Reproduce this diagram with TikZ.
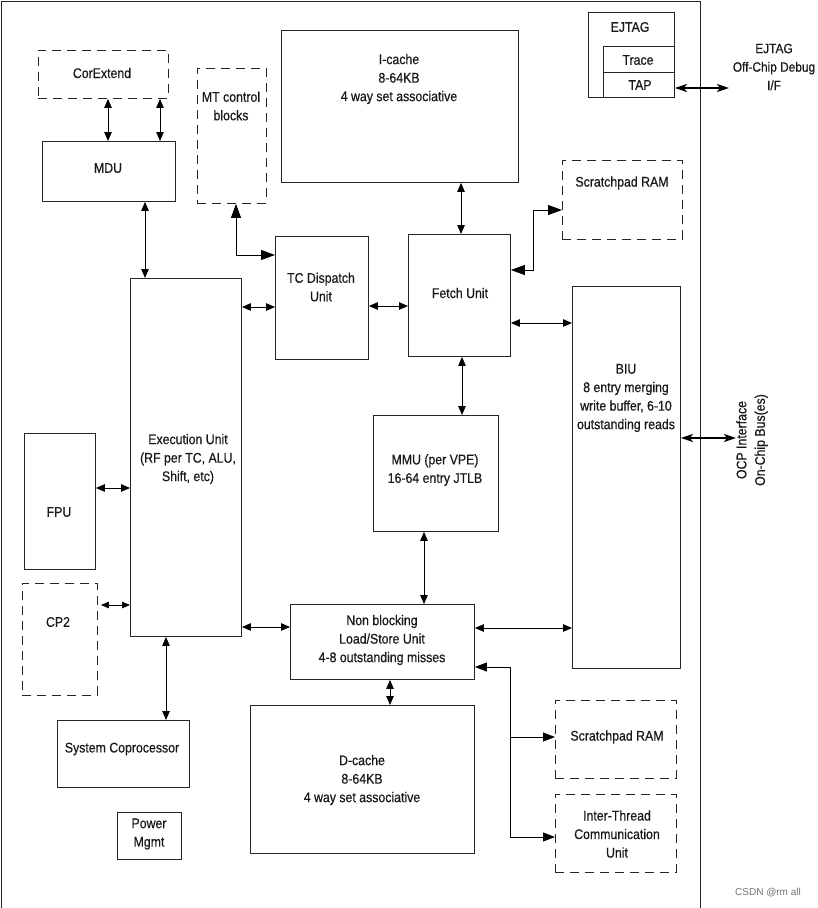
\documentclass[tikz,border=0pt]{standalone}
\usepackage{fontspec}
\setmainfont{Liberation Sans}[FakeStretch=0.88,FakeBold=0.5]
\newfontfamily\wmfont{Liberation Sans}
\usetikzlibrary{arrows.meta}
\begin{document}
\begin{tikzpicture}[x=1pt,y=-1pt,
  box/.style={draw=black!85, line width=0.9pt, inner sep=0pt, anchor=north west},
  dbox/.style={box, dash pattern=on 9pt off 6pt},
  txt/.style={align=center, inner sep=0pt, font=\fontsize{14}{18.5}\selectfont, text=black!90},
  dar/.style={{Triangle[length=9pt,width=7.5pt]}-{Triangle[length=9pt,width=7.5pt]}, line width=0.9pt},
  bar/.style={{Triangle[length=14pt,width=10pt]}-{Triangle[length=14pt,width=10pt]}, line width=0.9pt},
  tar/.style={{Stealth[length=12pt,width=8pt,inset=3pt]}-{Stealth[length=12pt,width=8pt,inset=3pt]}, line width=2pt},
  sar/.style={-{Triangle[length=12pt,width=9pt]}, line width=0.9pt}]
\useasboundingbox (0,0) rectangle (817,908);
\fill[white] (0,0) rectangle (817,908);
% chip frame
\node[box, minimum width=699pt, minimum height=907pt] (chip) at (0.5,0.5) {};
% EJTAG
\node[box, minimum width=86pt, minimum height=85pt] (ejtag) at (588,12) {};
\node[box, minimum width=71pt, minimum height=26pt] (trace) at (603,46) {};
\node[box, minimum width=71pt, minimum height=25pt] (tap) at (603,72) {};
\node[txt] (tejtag) at (630,27) {EJTAG};
\node[txt] (ttrace) at (638,60) {Trace};
\node[txt] (ttap) at (640,85) {TAP};
\coordinate (ejout) at (729,88);
\draw[tar] (tap.east |- ejout) -- (ejout);
\node[txt, font=\fontsize{13.5}{18.5}\selectfont] (tdebug) at (774,67) {EJTAG\\Off-Chip Debug\\I/F};
% CorExtend, MDU
\node[dbox, minimum width=130pt, minimum height=48pt] (corext) at (38,50) {};
\node[txt] (tcorext) at (102,73) {CorExtend};
\node[box, minimum width=133pt, minimum height=60pt] (mdu) at (42,141) {};
\node[txt] (tmdu) at (108,168) {MDU};
\draw[dar] (corext.south -| 108,0) -- (mdu.north -| 108,0);
\draw[dar] (corext.south -| 160,0) -- (mdu.north -| 160,0);
% MT control
\node[dbox, minimum width=69pt, minimum height=135pt] (mt) at (197,68) {};
\node[txt] (tmt) at (231,106) {MT control\\blocks};
% I-cache
\node[box, minimum width=237pt, minimum height=152pt] (icache) at (281,30) {};
\node[txt] (ticache) at (399,79) {I-cache\\8-64KB\\4 way set associative};
% TC dispatch
\node[box, minimum width=93pt, minimum height=123pt] (tcd) at (275,236) {};
\node[txt] (ttcd) at (321,287) {TC Dispatch\\Unit};
% Fetch
\node[box, minimum width=102pt, minimum height=122pt] (fetch) at (408,234) {};
\node[txt] (tfetch) at (460,293) {Fetch Unit};
% Scratchpad top
\node[dbox, minimum width=120pt, minimum height=79pt] (spram1) at (562,160) {};
\node[txt] (tspram1) at (622,183) {Scratchpad RAM};
% Execution
\node[box, minimum width=111pt, minimum height=358pt] (exec) at (130,278) {};
\node[txt] (texec) at (188,459) {Execution Unit\\(RF per TC, ALU,\\Shift, etc)};
% BIU
\node[box, minimum width=108pt, minimum height=382pt] (biu) at (572,286) {};
\node[txt] (tbiu) at (626,398) {BIU\\8 entry merging\\write buffer, 6-10\\outstanding reads};
% MMU
\node[box, minimum width=125pt, minimum height=116pt] (mmu) at (373,415) {};
\node[txt] (tmmu) at (435,470) {MMU (per VPE)\\16-64 entry JTLB};
% FPU, CP2
\node[box, minimum width=71pt, minimum height=136pt] (fpu) at (24,433) {};
\node[txt] (tfpu) at (59,512) {FPU};
\node[dbox, minimum width=75pt, minimum height=112pt] (cp2) at (22,583) {};
\node[txt] (tcp2) at (58,622) {CP2};
% LSU
\node[box, minimum width=184pt, minimum height=75pt] (lsu) at (290,604) {};
\node[txt] (tlsu) at (382,640) {Non blocking\\Load/Store Unit\\4-8 outstanding misses};
% D-cache
\node[box, minimum width=224pt, minimum height=148pt] (dcache) at (250,705) {};
\node[txt] (tdcache) at (362,780) {D-cache\\8-64KB\\4 way set associative};
% System coprocessor, power
\node[box, minimum width=132pt, minimum height=67pt] (scp) at (57,720) {};
\node[txt] (tscp) at (122,749) {System Coprocessor};
\node[box, minimum width=64pt, minimum height=47pt] (pwr) at (117,812) {};
\node[txt] (tpwr) at (149,834) {Power\\Mgmt};
% Scratchpad bottom, ITC
\node[dbox, minimum width=121pt, minimum height=78pt] (spram2) at (555,700) {};
\node[txt] (tspram2) at (617,737) {Scratchpad RAM};
\node[dbox, minimum width=121pt, minimum height=78pt] (itc) at (555,794) {};
\node[txt] (titc) at (617,834) {Inter-Thread\\Communication\\Unit};
% OCP
\coordinate (ocpout) at (736,438);
\draw[tar] (biu.east |- ocpout) -- (ocpout);
\node[txt, rotate=90] (tocp) at (752,440) {OCP Interface\\On-Chip Bus(es)};
% connectors
\draw[dar] (mdu.south -| 145,0) -- (exec.north -| 145,0);
\draw[bar] (tcd.west |- 0,255) -| (mt.south -| 236,0);
\draw[dar] (icache.south -| 461,0) -- (fetch.north -| 461,0);
\draw[bar] (fetch.east |- 0,270) -| (533,210) -- (spram1.west |- 0,210);
\draw[dar] (exec.east |- 0,307) -- (tcd.west |- 0,307);
\draw[dar] (tcd.east |- 0,306) -- (fetch.west |- 0,306);
\draw[dar] (fetch.east |- 0,323) -- (biu.west |- 0,323);
\draw[dar] (fetch.south -| 462,0) -- (mmu.north -| 462,0);
\draw[dar] (fpu.east |- 0,488) -- (exec.west |- 0,488);
\draw[{Triangle[length=8pt,width=6.5pt]}-{Triangle[length=8pt,width=6.5pt]}, line width=0.9pt] (cp2.east |- 0,605) ++(3,0) -- (exec.west |- 0,605);
\draw[dar] (mmu.south -| 424,0) -- (lsu.north -| 424,0);
\draw[dar] (exec.east |- 0,627) -- (lsu.west |- 0,627);
\draw[dar] (lsu.east |- 0,628) -- (biu.west |- 0,628);
\draw[dar] (lsu.south -| 390,0) -- (dcache.north -| 390,0);
\draw[dar] (exec.south -| 166,0) -- (scp.north -| 166,0);
\coordinate (brtop) at (510,667);
\coordinate (brmid) at (510,737);
\draw[sar] (brtop) -- (lsu.east |- brtop);
\draw[line width=0.9pt] (brtop) -- (510,837);
\draw[sar] (brmid) -- (spram2.west |- brmid);
\draw[sar] (510,837) -- (itc.west |- 0,837);
% watermark
\node[inner sep=0pt, font=\wmfont\fontsize{10}{12}\selectfont, text=black!55] (wm) at (768,893) {CSDN @rm all};
\end{tikzpicture}
\end{document}
